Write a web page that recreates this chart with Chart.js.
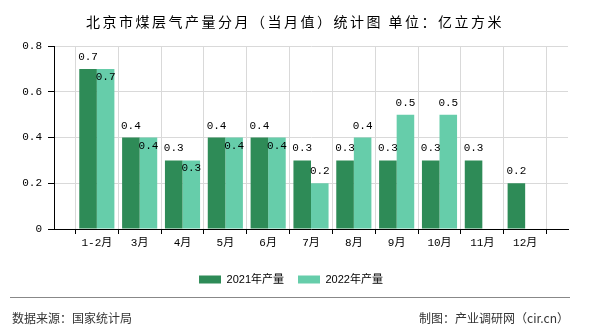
<!DOCTYPE html>
<html>
<head>
<meta charset="utf-8">
<script src="https://cdn.jsdelivr.net/npm/chart.js@4"></script>
<style>
  body { margin: 0; background: #fff; }
  #wrap { position: relative; width: 590px; height: 330px; overflow: hidden; }
  canvas { position: absolute; left: 0; top: 0; }
  .title { position: absolute; left: 0; width: 590px; top: 11px; line-height: 14px; text-align: center;
           font: 14px "Noto Sans CJK SC", sans-serif; letter-spacing: 2.5px; color: #000; }
  .rule { position: absolute; left: 10px; width: 560px; top: 297px; border-top: 1px solid #888; }
  .foot { position: absolute; top: 309px; line-height: 14px; font: 12px "Noto Sans CJK SC", sans-serif; color: #333; }
</style>
</head>
<body>
<div id="wrap">
  <canvas id="chart" width="590" height="330"></canvas>
  <div class="title">北京市煤层气产量分月（当月值）统计图 单位：亿立方米</div>
  <div class="rule"></div>
  <div class="foot" style="left:12px">数据来源：国家统计局</div>
  <div class="foot" style="right:21px">制图：产业调研网（cir.cn）</div>
</div>
<script>
// data
const months = ['1-2月', '3月', '4月', '5月', '6月', '7月', '8月', '9月', '10月', '11月', '12月'];
const prod2021 = [0.7, 0.4, 0.3, 0.4, 0.4, 0.3, 0.3, 0.3, 0.3, 0.3, 0.2];
const prod2022 = [0.7, 0.4, 0.3, 0.4, 0.4, 0.2, 0.4, 0.5, 0.5, null, null];
const yTicks = [0, 0.2, 0.4, 0.6, 0.8];

// the x axis has an empty slot at each end
const pad = arr => [null, ...arr, null];

const monoFont = { family: '"Liberation Mono", "Noto Sans CJK SC", monospace', size: 11 };

// value labels above bars; 2022 label goes inside the bar when it equals 2021
const valueLabels = {
    id: 'valueLabels',
    afterDatasetsDraw(chart) {
        const ctx = chart.ctx;
        ctx.save();
        ctx.font = '11px "Liberation Mono", monospace';
        ctx.fillStyle = '#000';
        ctx.textAlign = 'center';
        ctx.textBaseline = 'alphabetic';
        const d0 = chart.data.datasets[0].data;
        chart.data.datasets.forEach((ds, di) => {
            chart.getDatasetMeta(di).data.forEach((bar, i) => {
                const v = ds.data[i];
                if (v == null) return;
                let y = bar.y - 9;
                if (di === 1 && d0[i] === v) y = bar.y + 11;
                ctx.fillText(v.toFixed(1), bar.x, y);
            });
        });
        ctx.restore();
    }
};

new Chart(document.getElementById('chart'), {
    type: 'bar',
    data: {
        labels: ['', ...months, ''],
        datasets: [
            { label: '2021年产量', data: pad(prod2021), backgroundColor: '#2E8B57' },
            { label: '2022年产量', data: pad(prod2022), backgroundColor: '#66CDAA' }
        ]
    },
    options: {
        responsive: false,
        animation: false,
        devicePixelRatio: 1,
        layout: { padding: { top: 46, right: 22, bottom: 35, left: 14 } },
        datasets: { bar: { categoryPercentage: 0.82, barPercentage: 1 } },
        plugins: {
            legend: {
                position: 'bottom',
                labels: {
                    boxWidth: 22, boxHeight: 8, padding: 14, color: '#000',
                    font: { family: '"Liberation Sans", "Noto Sans CJK SC", sans-serif', size: 11 }
                }
            },
            tooltip: { enabled: false }
        },
        scales: {
            x: {
                offset: false,
                grid: { color: '#d9d9d9', tickColor: '#000', tickLength: 5 },
                border: { color: '#000' },
                ticks: { autoSkip: false, maxRotation: 0, color: '#000', font: monoFont, padding: 2 },
                afterFit: s => { s.height = 31; }
            },
            y: {
                min: 0, max: 0.8,
                afterBuildTicks: s => { s.ticks = yTicks.map(v => ({ value: v })); },
                grid: { color: '#d9d9d9', tickColor: '#000', tickLength: 6 },
                border: { color: '#000' },
                ticks: { color: '#000', font: monoFont, padding: 6,
                         callback: v => v === 0 ? '0' : v.toFixed(1) },
                afterFit: s => { s.width = 40; }
            }
        }
    },
    plugins: [valueLabels]
});
</script>
</body>
</html>
